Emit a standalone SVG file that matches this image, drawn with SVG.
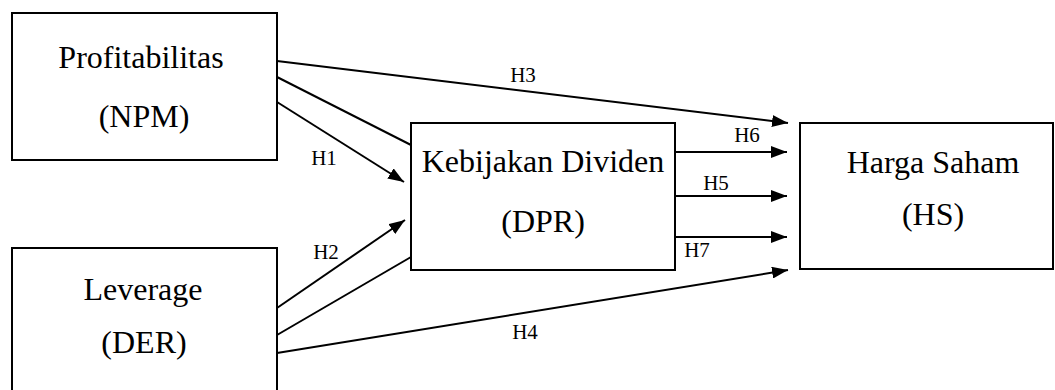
<svg xmlns="http://www.w3.org/2000/svg" width="1055" height="390" viewBox="0 0 1055 390">
<style>
.box{fill:#fff;stroke:#000;stroke-width:2}
.t{font-size:32px;fill:#000;text-anchor:middle}
.l{font-size:21px;fill:#000;text-anchor:middle}
.c{stroke:#000;stroke-width:2;fill:none}
.a{marker-end:url(#arr)}
</style>
<defs>
<marker id="arr" viewBox="0 0 16 12" refX="16" refY="6" markerWidth="16" markerHeight="12" markerUnits="userSpaceOnUse" orient="auto">
<path d="M0,0 L16,6 L0,12 z" fill="#000"/>
</marker>
</defs>
<rect width="1055" height="390" fill="#fff"/>
<g font-family="Liberation Serif, serif">
<g id="connectors">
<line class="c a" x1="277" y1="61" x2="788" y2="123"/>
<line class="c" x1="277" y1="77" x2="411" y2="145"/>
<line class="c a" x1="277" y1="102" x2="404" y2="182"/>
<line class="c a" x1="277" y1="308" x2="405" y2="220"/>
<line class="c" x1="277" y1="335" x2="411" y2="257"/>
<line class="c a" x1="277" y1="353" x2="788" y2="270"/>
<line class="c a" x1="675" y1="152" x2="787" y2="152"/>
<line class="c a" x1="675" y1="196" x2="787" y2="196"/>
<line class="c a" x1="675" y1="237" x2="787" y2="237"/>
<text class="l" x="523" y="82">H3</text>
<text class="l" x="324" y="165">H1</text>
<text class="l" x="326" y="259">H2</text>
<text class="l" x="525" y="339">H4</text>
<text class="l" x="747" y="142">H6</text>
<text class="l" x="716" y="190">H5</text>
<text class="l" x="697" y="257">H7</text>
</g>
<g id="npm">
<rect class="box" x="12" y="13" width="265" height="147"/>
<text class="t" x="141" y="68">Profitabilitas</text>
<text class="t" x="144" y="127">(NPM)</text>
</g>
<g id="der">
<rect class="box" x="12" y="248" width="265" height="150"/>
<text class="t" x="143" y="300">Leverage</text>
<text class="t" x="144" y="353">(DER)</text>
</g>
<g id="dpr">
<rect class="box" x="411" y="123" width="264" height="147"/>
<text class="t" x="543" y="172">Kebijakan Dividen</text>
<text class="t" x="543" y="232">(DPR)</text>
</g>
<g id="hs">
<rect class="box" x="800" y="123" width="253" height="146"/>
<text class="t" x="933" y="173">Harga Saham</text>
<text class="t" x="933" y="225">(HS)</text>
</g>
</g>
</svg>
